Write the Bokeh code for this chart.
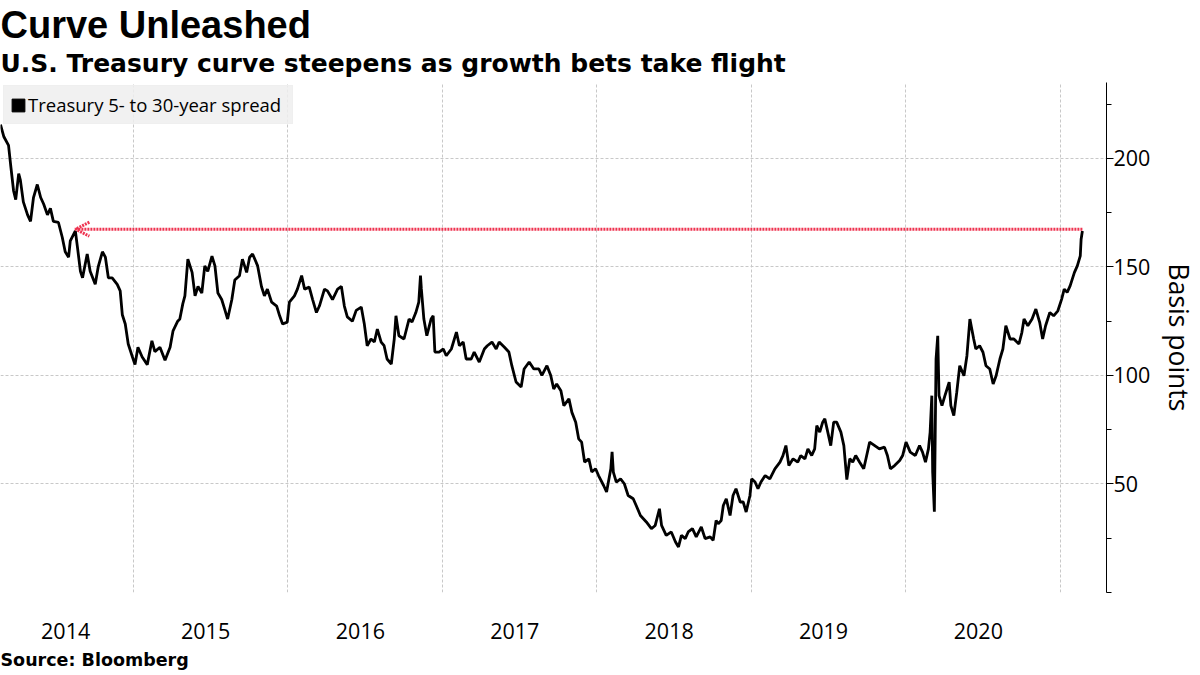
import pandas as pd
from bokeh.plotting import figure
from bokeh.models import (Title, FixedTicker, CustomJSTickFormatter, Arrow, OpenHead,
                          Legend, LegendItem, Range1d)
from bokeh.embed import file_html
from bokeh.resources import INLINE

# ---------------- data ----------------
dates = [
    "2014-02-21", "2014-03-01", "2014-03-12", "2014-03-17", "2014-03-24", "2014-03-29", "2014-04-05",
    "2014-04-09", "2014-04-16", "2014-04-26", "2014-05-03", "2014-05-10", "2014-05-19", "2014-05-27",
    "2014-06-03", "2014-06-12", "2014-06-19", "2014-06-26", "2014-07-08", "2014-07-17", "2014-07-24",
    "2014-08-01", "2014-08-05", "2014-08-17", "2014-08-22", "2014-08-29", "2014-09-03", "2014-09-14",
    "2014-09-21", "2014-10-03", "2014-10-10", "2014-10-20", "2014-10-27", "2014-11-03", "2014-11-12",
    "2014-11-24", "2014-12-01", "2014-12-06", "2014-12-13", "2014-12-20", "2014-12-30",
    "2015-01-05", "2015-01-12", "2015-01-22", "2015-02-03", "2015-02-14", "2015-02-21", "2015-03-05",
    "2015-03-17", "2015-03-29", "2015-04-05", "2015-04-16", "2015-04-21", "2015-04-28", "2015-05-03",
    "2015-05-10", "2015-05-20", "2015-05-27", "2015-06-03", "2015-06-12", "2015-06-19", "2015-06-26",
    "2015-07-06", "2015-07-13", "2015-07-20", "2015-07-29", "2015-08-05", "2015-08-12", "2015-08-22",
    "2015-08-29", "2015-09-09", "2015-09-16", "2015-09-26", "2015-10-03", "2015-10-10", "2015-10-22",
    "2015-10-31", "2015-11-07", "2015-11-14", "2015-11-24", "2015-12-06", "2015-12-13", "2015-12-20",
    "2015-12-31",
    "2016-01-05", "2016-01-17", "2016-01-24", "2016-02-03", "2016-02-10", "2016-02-21", "2016-02-29",
    "2016-03-09", "2016-03-16", "2016-03-28", "2016-04-04", "2016-04-16", "2016-04-28", "2016-05-07",
    "2016-05-14", "2016-05-21", "2016-06-02", "2016-06-11", "2016-06-23", "2016-06-30", "2016-07-07",
    "2016-07-16", "2016-07-24", "2016-07-31", "2016-08-09", "2016-08-16", "2016-08-23", "2016-09-02",
    "2016-09-09", "2016-09-13", "2016-09-20", "2016-10-02", "2016-10-14", "2016-10-21", "2016-10-30",
    "2016-11-06", "2016-11-10", "2016-11-12", "2016-11-18", "2016-11-25", "2016-12-05", "2016-12-10",
    "2016-12-14", "2016-12-24",
    "2017-01-03", "2017-01-10", "2017-01-22", "2017-02-03", "2017-02-10", "2017-02-19", "2017-02-26",
    "2017-03-10", "2017-03-17", "2017-03-29", "2017-04-10", "2017-04-17", "2017-04-28", "2017-05-08",
    "2017-05-15", "2017-05-27", "2017-06-07", "2017-06-14", "2017-06-24", "2017-07-06", "2017-07-13",
    "2017-07-25", "2017-08-05", "2017-08-17", "2017-08-24", "2017-09-05", "2017-09-14", "2017-09-21",
    "2017-09-28", "2017-10-08", "2017-10-15", "2017-10-27", "2017-11-03", "2017-11-12", "2017-11-19",
    "2017-11-26", "2017-12-03", "2017-12-13", "2017-12-20", "2017-12-29",
    "2018-01-05", "2018-01-17", "2018-01-24", "2018-02-03", "2018-02-06", "2018-02-09", "2018-02-16",
    "2018-02-26", "2018-03-07", "2018-03-16", "2018-03-28", "2018-04-04", "2018-04-14", "2018-04-21",
    "2018-04-28", "2018-05-10", "2018-05-19", "2018-05-29", "2018-06-03", "2018-06-14", "2018-06-26",
    "2018-07-06", "2018-07-13", "2018-07-20", "2018-07-29", "2018-08-05", "2018-08-15", "2018-08-24",
    "2018-09-05", "2018-09-14", "2018-09-26", "2018-10-03", "2018-10-10", "2018-10-15", "2018-10-22",
    "2018-10-27", "2018-11-03", "2018-11-12", "2018-11-19", "2018-11-26", "2018-12-06", "2018-12-13",
    "2018-12-20", "2018-12-29",
    "2019-01-02", "2019-01-10", "2019-01-17", "2019-01-24", "2019-02-03", "2019-02-14", "2019-02-26",
    "2019-03-10", "2019-03-17", "2019-03-24", "2019-03-31", "2019-04-10", "2019-04-21", "2019-04-28",
    "2019-05-08", "2019-05-15", "2019-05-24", "2019-05-31", "2019-06-05", "2019-06-12", "2019-06-19",
    "2019-06-24", "2019-07-01", "2019-07-08", "2019-07-15", "2019-07-22", "2019-08-01", "2019-08-08",
    "2019-08-15", "2019-08-22", "2019-08-29", "2019-09-05", "2019-09-14", "2019-09-24", "2019-10-01",
    "2019-10-08", "2019-10-20", "2019-10-31", "2019-11-12", "2019-11-19", "2019-11-26", "2019-12-06",
    "2019-12-18", "2019-12-25",
    "2020-01-02", "2020-01-12", "2020-01-24", "2020-02-03", "2020-02-10", "2020-02-17", "2020-02-24",
    "2020-02-28", "2020-03-03", "2020-03-05", "2020-03-09", "2020-03-11", "2020-03-13", "2020-03-17",
    "2020-03-20", "2020-03-27", "2020-04-03", "2020-04-13", "2020-04-17", "2020-04-24", "2020-05-01",
    "2020-05-08", "2020-05-18", "2020-05-25", "2020-06-01", "2020-06-10", "2020-06-15", "2020-06-24",
    "2020-07-02", "2020-07-09", "2020-07-18", "2020-07-26", "2020-08-02", "2020-08-11", "2020-08-18",
    "2020-08-25", "2020-09-04", "2020-09-13", "2020-09-25", "2020-10-02", "2020-10-07", "2020-10-16",
    "2020-10-26", "2020-11-04", "2020-11-13", "2020-11-20", "2020-11-27", "2020-12-07", "2020-12-16",
    "2020-12-26",
    "2021-01-04", "2021-01-10", "2021-01-17", "2021-01-24", "2021-02-03", "2021-02-10", "2021-02-17",
    "2021-02-19", "2021-02-22",
]

spread = [
    215.6, 210, 206, 197, 185, 181, 193,
    190, 180, 174, 171, 182, 188, 182,
    179, 174, 177, 171, 170.5, 163.7, 157,
    154.5, 162, 166.6, 159, 148, 145, 156,
    148, 142, 150, 157, 154.5, 145, 145,
    142, 139, 128, 123.7, 114.5, 108.5,
    105, 113, 108.5, 105, 116, 111, 113,
    107, 113, 120.6, 125, 126, 133, 136.7,
    153.6, 147.5, 136.7, 141, 138, 150.5, 148,
    155, 150.5, 138, 135, 130.6, 126, 135,
    144, 146, 153.6, 147.5, 154.5, 156, 150.5,
    141, 136.7, 139.8, 133.8, 132, 127.5, 123.7,
    124.6,
    133.8, 136.7, 139.8, 146, 139.8, 140.7, 135,
    129, 132, 139.8, 139, 135, 139.8, 141,
    132, 127, 125, 130, 131.5, 124, 113.7,
    116.8, 115.4, 121.4, 115.4, 113.7, 107.6, 105.3,
    116.8, 127.5, 118.3, 116.8, 126, 124.6, 129,
    133.8, 146, 140, 126, 118.3, 126, 127.5,
    110.8, 110.8,
    112.2, 109.1, 112.2, 120, 113.7, 115.4, 107.6,
    107.6, 110.8, 106.2, 112.2, 113.7, 115.4, 112.2,
    115.4, 113.1, 110.8, 104.5, 97, 94.7, 103,
    106.2, 103, 103, 100, 104.5, 100, 93.8,
    96.1, 93, 86.1, 89.2, 83, 78.5, 70.8,
    69.3, 60.1, 61.6, 55.5, 57,
    53.9, 49.3, 46.3, 57, 64.8, 55.5, 50.9,
    52.4, 50.1, 44.7, 43.2, 40.1, 35.5, 34,
    32.5, 29.4, 30.9, 38.6, 30.9, 26.3, 27.9,
    23.3, 21, 26.3, 24.8, 27.9, 29.4, 25.6,
    30.2, 24.8, 25.6, 24, 33.2, 31.7, 33.2,
    40.1, 43.2, 35.5, 44.7, 47.8, 41.7, 41.7,
    37.1, 44.7,
    52.4, 50.9, 47.8, 50.9, 53.9, 52.4, 57,
    60.1, 63.1, 67.7, 58.5, 61.6, 60.1, 63.1,
    61.6, 66.2, 63.1, 66.2, 76.9, 73.9, 78.5,
    80, 73.9, 67.7, 78.5, 78.5, 73.9, 67.7,
    52, 61.6, 60.1, 63.1, 60.1, 57, 63.1,
    69.3, 67.7, 66.2, 67, 63.1, 57, 58.5,
    60.8, 63.1,
    69.3, 64.7, 63.1, 67.7, 64.7, 60.1, 66.2,
    73.9, 90.7, 55.5, 37.2, 72.3, 107.6, 118.3,
    90.7, 86.1, 90.7, 96.9, 86.1, 81.5, 92.3,
    104.5, 99.9, 109.1, 126, 116.8, 112.2, 113.7,
    110.7, 104.5, 103, 96.1, 99.9, 107.6, 112.2,
    122.9, 116.8, 116.8, 114.5, 119.9, 126, 122.9,
    126, 130.6, 124.5, 116.8, 122.9, 129, 127.5,
    129.8,
    135.2, 139.8, 138.3, 141.3, 147.4, 150.5, 155.1,
    162.8, 166.6,
]

year_labels = ["2014", "2015", "2016", "2017", "2018", "2019", "2020"]
label_dates = ["2014-07-25", "2015-06-21", "2016-06-21", "2017-06-21",
               "2018-06-21", "2019-06-21", "2020-06-21"]
year_starts = ["2015-01-01", "2016-01-01", "2017-01-01", "2018-01-01",
               "2019-01-01", "2020-01-01", "2021-01-01"]
y_ticks = [50, 100, 150, 200]
y_grid = [0, 50, 100, 150, 200]
y_minor = [0, 25, 75, 125, 175, 225]

arrow_level = 167.4
arrow_from = "2021-02-22"
arrow_to = "2014-08-17"

x_start, x_end = "2014-02-21", "2021-04-20"
y_start, y_end = 0, 235

title_text = "Curve Unleashed"
subtitle_text = "U.S. Treasury curve steepens as growth bets take flight"
legend_text = "Treasury 5- to 30-year spread"
source_text = "Source: Bloomberg"
y_label = "Basis points"


def ms(d):
    return pd.Timestamp(d).value / 1e6


x = pd.to_datetime(dates)

p = figure(width=1200, height=675, x_axis_type="datetime", y_axis_location="right",
           x_range=Range1d(ms(x_start), ms(x_end)), y_range=Range1d(y_start, y_end),
           output_backend="svg", toolbar_location=None,
           min_border_left=0, min_border_right=90, min_border_top=82, min_border_bottom=81)
p.outline_line_color = None
p.background_fill_color = "white"
p.border_fill_color = "white"

# titles: p.title = main title (outer), subtitle added closer to the plot
p.title.text = title_text
p.title.text_font = "Liberation Sans"
p.title.text_font_size = "38px"
p.title.text_font_style = "bold"
p.title.text_color = "black"
p.title.align = "left"
p.title.standoff = 0
sub = Title(text=subtitle_text, text_font="DejaVu Sans", text_font_size="25px",
            text_font_style="bold", text_color="black", align="left",
            vertical_align="top", standoff=6)
p.add_layout(sub, "above")
src = Title(text=source_text, text_font="DejaVu Sans", text_font_size="17.5px",
            text_font_style="bold", text_color="black", align="left",
            vertical_align="bottom", standoff=12)
p.add_layout(src, "below")

# grids
grid_color = "#c8c8c8"
p.xgrid.ticker = FixedTicker(ticks=[ms(d) for d in year_starts])
p.ygrid.ticker = FixedTicker(ticks=y_grid)
for g in (p.xgrid[0], p.ygrid[0]):
    g.grid_line_color = grid_color
    g.grid_line_dash = "3 2"
    g.grid_line_width = 1

# x axis
xa = p.xaxis[0]
xa.ticker = FixedTicker(ticks=[ms(d) for d in label_dates])
xa.formatter = CustomJSTickFormatter(code="return String(new Date(tick).getUTCFullYear());")
xa.axis_line_color = None
xa.major_tick_line_color = None
xa.minor_tick_line_color = None
xa.major_label_standoff = 24
xa.major_label_text_font = "Open Sans"
xa.major_label_text_font_size = "21.5px"
xa.major_label_text_color = "black"

# y axis
ya = p.yaxis[0]
ya.ticker = FixedTicker(ticks=y_ticks, minor_ticks=y_minor)
ya.axis_line_color = "black"
ya.major_tick_line_color = "black"
ya.minor_tick_line_color = "black"
ya.major_tick_in = 0
ya.major_tick_out = 7
ya.minor_tick_in = 0
ya.minor_tick_out = 5
ya.major_label_standoff = 0
ya.major_label_text_font = "Open Sans"
ya.major_label_text_font_size = "21.5px"
ya.major_label_text_color = "black"
ya.axis_label = y_label
ya.axis_label_text_font = "Open Sans"
ya.axis_label_text_font_size = "26.5px"
ya.axis_label_text_font_style = "normal"
ya.axis_label_text_color = "black"
ya.axis_label_standoff = 8

# series
line = p.line(x=x, y=spread, line_color="black", line_width=2.8)

# legend swatch (an empty square glyph used only for the legend)
nan = float("nan")
sw = p.quad(left=[nan], right=[nan], top=[nan], bottom=[nan],
            fill_color="black", line_color="black")
legend = Legend(items=[LegendItem(label=legend_text, renderers=[sw])], location="top_left")
legend.margin = 3
legend.padding = 6
legend.spacing = 0
legend.glyph_width = 16
legend.glyph_height = 16
legend.label_standoff = 2
legend.label_width = 258
legend.label_text_font = "Open Sans"
legend.label_text_font_size = "18.5px"
legend.label_text_color = "black"
legend.background_fill_color = "#efefef"
legend.background_fill_alpha = 0.85
legend.border_line_color = "#efefef"
legend.border_line_alpha = 0.85
legend.border_line_width = 1
p.add_layout(legend)

# red dotted arrow
red = "#ee3350"
arrow = Arrow(end=OpenHead(size=14, line_color=red, line_width=3, line_dash="2 1"),
              x_start=ms(arrow_from), y_start=arrow_level,
              x_end=ms(arrow_to), y_end=arrow_level,
              line_color=red, line_width=3, line_dash="2 1")
p.add_layout(arrow)

open("out.html", "w").write(file_html(p, INLINE))
